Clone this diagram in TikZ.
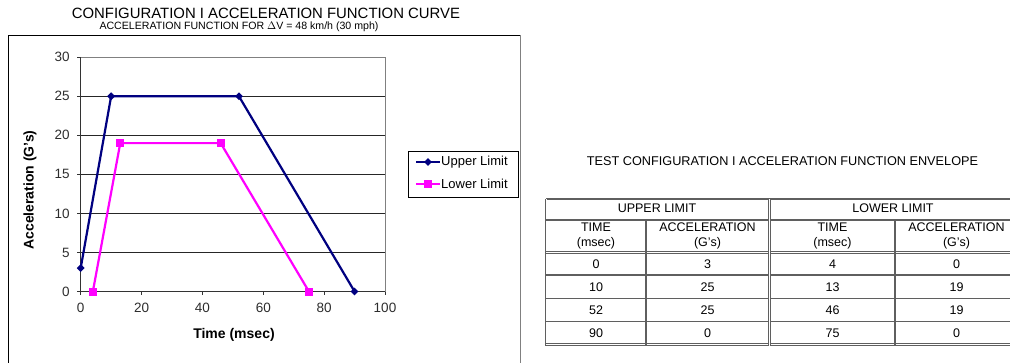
\documentclass[tikz,border=0pt]{standalone}
\usepackage{fontspec}
\setmainfont{Liberation Sans}
\definecolor{navy}{RGB}{0,0,128}
\definecolor{mag}{RGB}{255,0,255}
\definecolor{tick}{RGB}{45,45,45}
\definecolor{tblgray}{RGB}{95,95,95}
\tikzset{
  ticklab/.style={font=\fontsize{13.5}{14}\selectfont, text=tick, inner sep=0pt},
  axtitle/.style={font=\bfseries\fontsize{14}{15}\selectfont, inner sep=0pt},
  gridln/.style={black!85, line width=0.8pt},
  upperln/.style={navy, line width=2.2pt, line join=round},
  lowerln/.style={mag, line width=2.2pt, line join=round},
  dmark/.style={diamond, fill=navy, minimum width=8pt, minimum height=8pt, inner sep=0pt},
  smark/.style={rectangle, fill=mag, minimum width=8pt, minimum height=8pt, inner sep=0pt},
  legtext/.style={font=\fontsize{13}{14}\selectfont, anchor=west, inner sep=0pt},
  cell/.style={font=\fontsize{12.5}{14.5}\selectfont, inner sep=0pt, align=center},
  tline/.style={tblgray, line width=1.3pt},
  tdouble/.style={tblgray, line width=1pt, double=white, double distance=0.7pt},
}
\usetikzlibrary{shapes.geometric}
\begin{document}
\begin{tikzpicture}[x=1pt,y=-1pt]
\useasboundingbox (0,0) rectangle (1010,362);
\fill[white] (0,0) rectangle (1010,362);
% titles
\node[inner sep=0pt, font=\fontsize{14.9}{16}\selectfont] (t1) at (266,13) {CONFIGURATION I ACCELERATION FUNCTION CURVE};
\node[inner sep=0pt, font=\fontsize{10.6}{11}\selectfont] (t2) at (239,26.5) {ACCELERATION FUNCTION FOR $\Delta$V = 48 km/h (30 mph)};
% outer chart frame
\draw[black, line width=1pt] (8,365) -- (8,35) -- (520.5,35);
\draw[gray, line width=1.4pt] (520.5,35) -- (520.5,365);
% plot area
\begin{scope}[shift={(80.7,291.5)}, x=3.043pt, y=7.81pt]
  \foreach \v in {5,10,15,20,25} \draw[gridln] (0,\v) -- (100,\v);
  \draw[gray, line width=0.9pt] (0,30) -- (100,30) -- (100,0);
  \foreach \v in {0,5,...,30} {
    \draw[black!80, line width=0.8pt] (-1.1,\v) -- (0,\v);
    \node[ticklab, anchor=east] (yl\v) at (-3.6,\v) {\v};
  }
  \draw[black!80, line width=0.9pt] (0,30) -- (0,-0.45);
  \draw[black!80, line width=0.9pt] (-1.1,0) -- (100,0);
  \foreach \v in {0,20,...,100} {
    \draw[black!80, line width=0.8pt] (\v,0) -- (\v,-0.45);
    \node[ticklab] (xl\v) at (\v,-2.1) {\v};
  }
  \coordinate (u1) at (0,3); \coordinate (u2) at (10,25);
  \coordinate (u3) at (52,25); \coordinate (u4) at (90,0);
  \coordinate (l1) at (4,0); \coordinate (l2) at (13,19);
  \coordinate (l3) at (46,19); \coordinate (l4) at (75,0);
  \draw[upperln] (u1) -- (u2) -- (u3) -- (u4);
  \draw[lowerln] (l1) -- (l2) -- (l3) -- (l4);
  \foreach \p in {u1,u2,u3,u4} \node[dmark] (m\p) at (\p) {};
  \foreach \p in {l1,l2,l3,l4} \node[smark] (m\p) at (\p) {};
\end{scope}
\node[axtitle] (xt) at (234,335) {Time (msec)};
\node[axtitle, rotate=90] (yt) at (30,190) {Acceleration (G's)};
% legend
\node[draw=black, line width=0.8pt, minimum width=110pt, minimum height=46pt, inner sep=0pt] (leg) at (463.2,174) {};
\coordinate (la1) at (416,162); \coordinate (lb1) at (440,162);
\coordinate (la2) at (416,184); \coordinate (lb2) at (440,184);
\draw[upperln] (la1) -- (lb1);
\node[dmark] (lm1) at (428,162) {};
\draw[lowerln] (la2) -- (lb2);
\node[smark] (lm2) at (428,184) {};
\node[legtext] (lt1) at (441,162) {Upper Limit};
\node[legtext] (lt2) at (441,184) {Lower Limit};
% table
\node[inner sep=0pt, font=\fontsize{12.7}{13}\selectfont] (tt) at (782.5,160.7) {TEST CONFIGURATION I ACCELERATION FUNCTION ENVELOPE};
\draw[tline] (1012,199) -- (546,199);
\draw[tdouble] (546,198.5) -- (546,345.5);
\draw[tline] (546,220) -- (1012,220);
\draw[tdouble] (546,252.2) -- (1012,252.2);
\draw[tline] (546,275) -- (1012,275);
\draw[tline] (546,298.3) -- (1012,298.3);
\draw[tline] (546,321.7) -- (1012,321.7);
\draw[tdouble] (546,344.7) -- (1012,344.7);
\draw[tline] (646,220) -- (646,344.7);
\draw[tline] (895,220) -- (895,344.7);
\draw[tdouble] (769.2,199) -- (769.2,345.5);
\node[cell] (hu) at (657,208.5) {UPPER LIMIT};
\node[cell] (hl) at (893,208.5) {LOWER LIMIT};
\node[cell] (h1) at (596,236) {TIME\\(msec)};
\node[cell] (h2) at (707.5,236) {ACCELERATION\\(G's)};
\node[cell] (h3) at (832.5,236) {TIME\\(msec)};
\node[cell] (h4) at (956.5,236) {ACCELERATION\\(G's)};
\foreach \a/\b/\c/\d/\y [count=\i] in {0/3/4/0/264, 10/25/13/19/287, 52/25/46/19/310, 90/0/75/0/333} {
  \node[cell] (ra\i) at (596,\y) {\a};
  \node[cell] (rb\i) at (707.5,\y) {\b};
  \node[cell] (rc\i) at (832.5,\y) {\c};
  \node[cell] (rd\i) at (956.5,\y) {\d};
}
\end{tikzpicture}
\end{document}
